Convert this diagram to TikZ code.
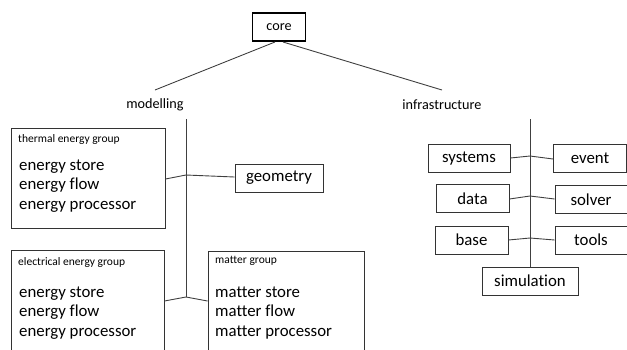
\documentclass[tikz,border=0pt]{standalone}
\usepackage{fontspec}
\setmainfont{Carlito}[Ligatures={NoCommon,NoRare}]
\begin{document}
\begin{tikzpicture}[x=1pt,y=-1pt,
  line/.style={draw=black!75, line width=0.9pt},
  box/.style={draw=black!80, line width=0.9pt, inner sep=0pt, fill=white},
  title/.style={font=\fontsize{11.5}{13}\selectfont, inner sep=0pt, anchor=west},
  items/.style={font=\fontsize{16.8}{19.2}\selectfont, align=left, inner sep=0pt, anchor=west},
  label/.style={font=\fontsize{14.2}{16}\selectfont, inner sep=0pt},
  smallbox/.style={draw=black!80, line width=0.9pt, inner sep=0pt, minimum height=28pt,
    font=\fontsize{16.8}{19}\selectfont}]
\useasboundingbox (0,0) rectangle (627,349);
\clip (0,0) rectangle (627,349);

% top level
\node[draw=black, line width=1.8pt, minimum width=53pt, minimum height=28pt, inner sep=0pt,
  font=\fontsize{14.2}{16}\selectfont] (core) at (279,27) {core};
\node[label] (mod) at (155,105) {modelling};
\node[label] (infra) at (442,105) {infrastructure};
\coordinate (coreL) at (275,42);
\coordinate (coreR) at (283,42);
\coordinate (modT) at (155,90);
\coordinate (infraT) at (442,90);
\draw[line] (coreL) -- (modT);
\draw[line] (coreR) -- (infraT);

% modelling branch
\coordinate (mtop) at (186,119);
\coordinate (mj1) at (186,175);
\coordinate (mj2) at (186,297);
\draw[line] (mtop) -- (mj2);

\node[box, minimum width=154pt, minimum height=100pt] (thermal) at (88,178) {};
\node[title] (thermalT) at (18,139) {thermal energy group};
\node[items] (thermalI) at (19,186) {energy store\\energy flow\\energy processor};

\node[smallbox, minimum width=88pt] (geom) at (279,178) {geometry};

\node[box, minimum width=153pt, minimum height=120pt] (elec) at (87.5,310) {};
\node[title] (elecT) at (18,262) {electrical energy group};
\node[items] (elecI) at (19,313) {energy store\\energy flow\\energy processor};

\node[box, minimum width=156pt, minimum height=120pt] (matter) at (286,311) {};
\node[title] (matterT) at (215,261) {matter group};
\node[items] (matterI) at (215,313) {matter store\\matter flow\\matter processor};

\draw[line] (thermal.east |- 0,179) -- (mj1) -- (geom.west |- 0,177);
\draw[line] (elec.east |- 0,301) -- (mj2) -- (matter.west |- 0,301);

% infrastructure branch
\coordinate (itop) at (530,119);
\node[smallbox, minimum width=96pt] (sim) at (530,281) {simulation};
\draw[line] (itop) -- (sim.north);

\node[smallbox, minimum width=82pt] (systems) at (469,158.5) {systems};
\node[smallbox, minimum width=73pt] (event) at (590,158) {event};
\node[smallbox, minimum width=73pt] (data) at (472.5,198.5) {data};
\node[smallbox, minimum width=72pt] (solver) at (591,199.5) {solver};
\node[smallbox, minimum width=73pt] (base) at (471.5,240) {base};
\node[smallbox, minimum width=72pt] (tools) at (591,240) {tools};

\coordinate (ij1) at (530,156);
\coordinate (ij2) at (530,196);
\coordinate (ij3) at (530,238);
\draw[line] (systems.east |- 0,158) -- (ij1) -- (event.west |- 0,159);
\draw[line] (data.east |- 0,199) -- (ij2) -- (solver.west |- 0,199);
\draw[line] (base.east |- 0,240) -- (ij3) -- (tools.west |- 0,240);
\end{tikzpicture}
\end{document}
